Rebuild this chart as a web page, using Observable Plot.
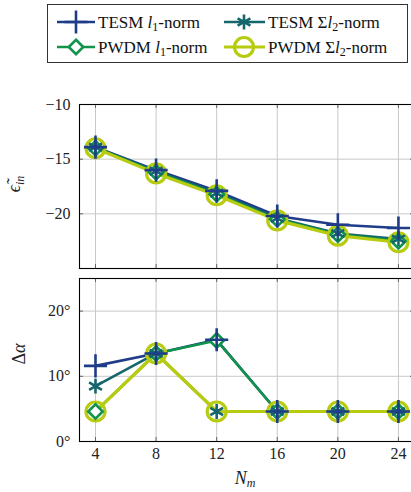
<!DOCTYPE html>
<html><head><meta charset="utf-8">
<script src="https://cdn.jsdelivr.net/npm/d3@7"></script>
<script src="https://cdn.jsdelivr.net/npm/@observablehq/plot@0.6"></script>
<style>
html,body{margin:0;padding:0;background:#fff;}
body{overflow:hidden;width:411px;height:492px;position:relative;font-family:"Liberation Serif",serif;}
#legend{position:absolute;left:47px;top:4px;}
.panel{position:absolute;left:0;}
.panel svg, .panel svg text{font-family:"Liberation Serif",serif !important;}
</style></head>
<body>
<div id="legend"></div>
<div id="top" class="panel" style="top:94px"></div>
<div id="bot" class="panel" style="top:268px"></div>
<script>
// ---- data ----
const N = [4, 8, 12, 16, 20, 24];
const seriesKeys = ["tesmL1", "tesmL2", "pwdmL1", "pwdmL2"];
// top panel: epsilon_in
const epsTesmL1 = [-13.9, -16.0, -17.9, -20.2, -21.0, -21.3];
const epsTesmL2 = [-13.9, -16.1, -18.1, -20.4, -21.8, -22.3];
const epsPwdmL1 = [-14.0, -16.2, -18.2, -20.5, -21.9, -22.5];
const epsPwdmL2 = [-14.0, -16.3, -18.3, -20.6, -22.0, -22.6];
// bottom panel: delta alpha (degrees)
const daTesmL1 = [11.6, 13.5, 15.6, 4.6, 4.6, 4.6];
const daTesmL2 = [8.5, 13.5, 4.6, 4.6, 4.6, 4.6];
const daPwdmL1 = [4.6, 13.5, 15.5, 4.6, 4.6, 4.6];
const daPwdmL2 = [4.6, 13.5, 4.6, 4.6, 4.6, 4.6];
// ticks
const xTicks = [4, 8, 12, 16, 20, 24];
const epsTicks = [-20, -15, -10];
const daTicks = [0, 10, 20];

// ---- styles ----
const colors = {tesmL1: "#1f3c88", tesmL2: "#14666c", pwdmL1: "#10934a", pwdmL2: "#b7cc10"};
const symbols = {tesmL1: "plus", tesmL2: "asterisk", pwdmL1: "diamond2", pwdmL2: "circle"};
const radii = {tesmL1: 7.5, tesmL2: 7, pwdmL1: 6.5, pwdmL2: 9.5};
const fills = {tesmL1: "none", tesmL2: "none", pwdmL1: "white", pwdmL2: "none"};
const widths = {tesmL1: 2.6, tesmL2: 2.6, pwdmL1: 2.6, pwdmL2: 3.2};
const FONT = "Liberation Serif";

function toRows(arrs) {
  const rows = [];
  seriesKeys.forEach((k, i) => N.forEach((n, j) => rows.push({s: k, x: n, y: arrs[i][j]})));
  return rows;
}
const epsRows = toRows([epsTesmL1, epsTesmL2, epsPwdmL1, epsPwdmL2]);
const daRows = toRows([daTesmL1, daTesmL2, daPwdmL1, daPwdmL2]);

const X_DOMAIN = [2.944, 25.06];

function panel(rows, yDomain, yTicks, fmt, height, marginBottom, showX) {
  const ySpan = yDomain[1] - yDomain[0];
  const tickLenY = ySpan * 4 / (height - 10 - marginBottom);
  const tickLenX = (X_DOMAIN[1] - X_DOMAIN[0]) * 4 / 335;
  const marks = [
    Plot.gridX(xTicks, {stroke: "#c8c8c8", strokeOpacity: 1}),
    Plot.gridY(yTicks, {stroke: "#c8c8c8", strokeOpacity: 1}),
    Plot.ruleX(xTicks, {x: d => d, y1: yDomain[0], y2: yDomain[0] + tickLenY, stroke: "#666"}),
    Plot.ruleX(xTicks, {x: d => d, y1: yDomain[1], y2: yDomain[1] - tickLenY, stroke: "#666"}),
    Plot.ruleY(yTicks, {y: d => d, x1: X_DOMAIN[0], x2: X_DOMAIN[0] + tickLenX, stroke: "#666"}),
    Plot.ruleY(yTicks, {y: d => d, x1: X_DOMAIN[1], x2: X_DOMAIN[1] - tickLenX, stroke: "#666"}),
    Plot.frame({stroke: "black", strokeWidth: 1.1}),
    Plot.axisY(yTicks, {tickSize: 0, tickPadding: 9, tickFormat: fmt, label: null, fontFamily: FONT}),
  ];
  if (showX) marks.push(Plot.axisX(xTicks, {tickSize: 0, tickPadding: 6, label: null, fontFamily: FONT}));
  for (const k of seriesKeys) {
    marks.push(Plot.line(rows.filter(d => d.s === k), {x: "x", y: "y", stroke: colors[k], strokeWidth: widths[k]}));
  }
  for (const k of ["pwdmL2", "pwdmL1", "tesmL2", "tesmL1"]) {
    marks.push(Plot.dot(rows.filter(d => d.s === k), {x: "x", y: "y", symbol: symbols[k], r: radii[k], stroke: colors[k], fill: fills[k], strokeWidth: widths[k]}));
  }
  const svg = Plot.plot({
    width: 411, height, marginTop: 10, marginBottom, marginLeft: 79, marginRight: -3,
    x: {domain: X_DOMAIN, axis: null},
    y: {domain: yDomain, axis: null},
    style: {fontFamily: FONT, fontSize: "16px", color: "#222", background: "transparent", overflow: "visible"},
    marks
  });
  svg.setAttribute("font-family", FONT);
  svg.setAttribute("font-size", "16");
  return svg;
}

const topPlot = panel(epsRows, [-25, -10], epsTicks, d => "\u2212" + Math.abs(d), 184, 10, false);
const botPlot = panel(daRows, [0, 25], daTicks, d => d + "\u00B0", 224, 51, true);
document.getElementById("top").appendChild(topPlot);
document.getElementById("bot").appendChild(botPlot);

// axis titles (rich text)
d3.select(topPlot).append("text")
  .attr("transform", "translate(20,90) rotate(-90)")
  .attr("text-anchor", "middle").attr("font-family", FONT).attr("font-size", 18).attr("fill", "#222")
  .call(t => {
    t.append("tspan").attr("font-style", "italic").text("\u03F5\u0303");
    t.append("tspan").attr("font-style", "italic").attr("font-size", 12).attr("dy", 4).text("in");
  });
d3.select(botPlot).append("text")
  .attr("transform", "translate(25,86) rotate(-90)")
  .attr("text-anchor", "middle").attr("font-family", FONT).attr("font-size", 18).attr("fill", "#222")
  .call(t => {
    t.append("tspan").text("\u0394");
    t.append("tspan").attr("font-style", "italic").text("\u03B1");
  });
d3.select(botPlot).append("text")
  .attr("transform", "translate(245,216)")
  .attr("text-anchor", "middle").attr("font-family", FONT).attr("font-size", 18).attr("fill", "#222")
  .call(t => {
    t.append("tspan").attr("font-style", "italic").text("N");
    t.append("tspan").attr("font-style", "italic").attr("font-size", 12).attr("dy", 3).text("m");
  });

// ---- legend ----
const legendItems = [
  {k: "tesmL1", col: 0, row: 0, pre: "TESM ", v: "l", sub: "1"},
  {k: "tesmL2", col: 1, row: 0, pre: "TESM \u03A3", v: "l", sub: "2"},
  {k: "pwdmL1", col: 0, row: 1, pre: "PWDM ", v: "l", sub: "1"},
  {k: "pwdmL2", col: 1, row: 1, pre: "PWDM \u03A3", v: "l", sub: "2"},
];
const colX = [{x1: 10, x2: 48, m: 29, t: 51}, {x1: 177, x2: 218, m: 197, t: 221}];
const rowY = [18, 43];
const lg = d3.select("#legend").append("svg").attr("width", 362).attr("height", 60)
  .attr("font-family", FONT).attr("font-size", 17);
lg.append("rect").attr("x", 0.5).attr("y", 0.5).attr("width", 360).attr("height", 58)
  .attr("fill", "white").attr("stroke", "#333").attr("stroke-width", 1);
const symMap = {plus: d3.symbolPlus, asterisk: d3.symbolAsterisk, diamond2: d3.symbolDiamond2, circle: d3.symbolCircle};
for (const it of legendItems) {
  const c = colX[it.col], y = rowY[it.row];
  const g = lg.append("g");
  g.append("line").attr("x1", c.x1).attr("x2", c.x2).attr("y1", y).attr("y2", y)
    .attr("stroke", colors[it.k]).attr("stroke-width", widths[it.k]);
  g.append("path").attr("transform", `translate(${c.m},${y})`)
    .attr("d", d3.symbol(symMap[symbols[it.k]], Math.PI * radii[it.k] * radii[it.k])())
    .attr("stroke", colors[it.k]).attr("fill", fills[it.k]).attr("stroke-width", widths[it.k]);
  const t = g.append("text").attr("x", c.t).attr("y", y + 6).attr("fill", "#111");
  t.append("tspan").text(it.pre);
  t.append("tspan").attr("font-style", "italic").text(it.v);
  t.append("tspan").attr("font-size", 12).attr("dy", 3).text(it.sub);
  t.append("tspan").attr("dy", -3).text("-norm");
}
</script>
</body></html>
